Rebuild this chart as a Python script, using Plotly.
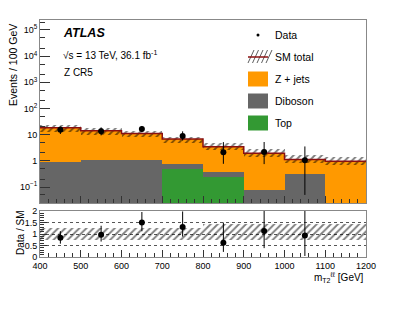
import plotly.graph_objects as go
import numpy as np

# ---------------- data ----------------
bin_edges = [400, 500, 600, 700, 800, 900, 1000, 1100, 1200]
bin_centers = [450, 550, 650, 750, 850, 950, 1050, 1150]
zjets = [17.4, 12.9, 9.9, 6.0, 3.1, 1.87, 0.80, 0.97]
diboson = [0.89, 1.09, 1.09, 0.30, 0.12, 0.078, 0.32, 0.0]
top = [0.0, 0.0, 0.0, 0.47, 0.25, 0.0, 0.0, 0.0]
unc_up = [0.25, 0.25, 0.25, 0.25, 0.43, 0.43, 0.43, 0.43]
unc_down = [0.28, 0.28, 0.28, 0.28, 0.28, 0.28, 0.28, 0.28]
data_x = [450, 550, 650, 750, 850, 950, 1050]
data_y = [15.3, 13.6, 16.5, 8.8, 2.15, 2.2, 1.05]
data_err_up = [5.2, 5.4, 5.0, 4.6, 3.05, 3.05, 2.5]
data_err_down = [4.7, 4.2, 4.2, 2.8, 1.38, 1.45, 1.0]
y_tickvals = [0.1, 1, 10, 100, 1000, 10000, 100000]
y_ticktext = ["10<sup>\u22121</sup>", "1", "10", "10<sup>2</sup>", "10<sup>3</sup>", "10<sup>4</sup>", "10<sup>5</sup>"]
x_ticks = [400, 500, 600, 700, 800, 900, 1000, 1100, 1200]
ratio_ticks = [0, 0.5, 1, 1.5, 2]
ratio_ticktext = ["0", "0.5", "1", "1.5", "2"]

# -------------- derived ---------------
zj = np.array(zjets); db = np.array(diboson); tp = np.array(top)
total = zj + db + tp
cum_top = tp
cum_db = tp + db
up = np.array(unc_up); dn = np.array(unc_down)
n_data = len(data_x)
tot_d = total[:n_data]
ratio = np.array(data_y) / tot_d
ratio_up = np.array(data_err_up) / tot_d
ratio_dn = np.array(data_err_down) / tot_d

ORANGE = "#ff9900"
GREY = "#666666"
GREEN = "#339933"
RED = "#8b1010"
FONT = "Liberation Sans, Arial, sans-serif"

# page has an 8px body margin; figure sized to fit the window
OFF = 8
W, H = 407 - OFF, 315 - OFF
ML, MT = 40 - OFF, 20 - OFF
MR = W - (366 - OFF)
MB = H - (257 - OFF)
PW, PH = W - ML - MR, H - MT - MB


def px(x):  # reference-window pixel -> paper
    return (x - OFF - ML) / PW


def py(y):
    return (H - MB - (y - OFF)) / PH


hatch = dict(shape="/", fgcolor="#000000", bgcolor="rgba(0,0,0,0)", size=5, solidity=0.38, fillmode="overlay")

fig = go.Figure()

for vals, col in [(total, ORANGE), (cum_db, GREY), (cum_top, GREEN)]:
    fig.add_trace(go.Bar(x=bin_centers, y=vals, width=100, marker=dict(color=col, line=dict(width=0)),
                         xaxis="x", yaxis="y", showlegend=False, hoverinfo="skip"))

# SM total uncertainty band (top)
fig.add_trace(go.Bar(x=bin_centers, y=total * (up + dn), base=total * (1 - dn), width=100,
                     marker=dict(color="rgba(0,0,0,0)", line=dict(width=0), pattern=hatch),
                     xaxis="x", yaxis="y", showlegend=False, hoverinfo="skip"))

# SM total step line
step_y = list(total) + [total[-1]]
fig.add_trace(go.Scatter(x=bin_edges, y=step_y, mode="lines", line=dict(color=RED, width=1.5, shape="hv"),
                         xaxis="x", yaxis="y", showlegend=False, hoverinfo="skip"))

# data
fig.add_trace(go.Scatter(x=data_x, y=data_y, mode="markers",
                         marker=dict(color="black", size=6),
                         error_y=dict(type="data", symmetric=False, array=data_err_up,
                                      arrayminus=data_err_down, color="black", thickness=1, width=0),
                         xaxis="x", yaxis="y", showlegend=False, hoverinfo="skip"))

# ratio band
fig.add_trace(go.Bar(x=bin_centers, y=up + dn, base=1 - dn, width=100,
                     marker=dict(color="rgba(0,0,0,0)", line=dict(width=0), pattern=hatch),
                     xaxis="x2", yaxis="y2", showlegend=False, hoverinfo="skip"))

fig.add_trace(go.Scatter(x=data_x, y=ratio, mode="markers",
                         marker=dict(color="black", size=6),
                         error_y=dict(type="data", symmetric=False, array=ratio_up,
                                      arrayminus=ratio_dn, color="black", thickness=1, width=0),
                         xaxis="x2", yaxis="y2", showlegend=False, hoverinfo="skip"))

tickfont = dict(family=FONT, size=9, color="black")
frame = dict(showline=True, linecolor="#888888", linewidth=1, mirror=True, zeroline=False, automargin=False)

fig.update_layout(
    width=W, height=H, margin=dict(l=ML, r=MR, t=MT, b=MB, autoexpand=False),
    paper_bgcolor="white", plot_bgcolor="white", barmode="overlay", bargap=0,
    font=dict(family=FONT, color="black"),
    xaxis=dict(domain=[0, 1], range=[400, 1200], anchor="y", showticklabels=False,
               ticks="inside", ticklen=7, tickcolor="#333", tickvals=x_ticks,
               minor=dict(dtick=20, ticks="inside", ticklen=4, tickcolor="#333"),
               showgrid=False, **frame),
    yaxis=dict(domain=[py(203), 1], type="log", range=[-1.61, 5.38], anchor="x",
               tickvals=y_tickvals, ticktext=y_ticktext, ticks="inside", ticklen=10, tickcolor="#333",
               minor=dict(ticks="inside", ticklen=5, tickcolor="#333", showgrid=False),
               tickfont=tickfont, showgrid=False, **frame),
    xaxis2=dict(domain=[0, 1], range=[400, 1200], anchor="y2", tickvals=x_ticks,
                ticks="inside", ticklen=7, tickcolor="#333", tickfont=tickfont,
                minor=dict(dtick=20, ticks="inside", ticklen=4, tickcolor="#333"),
                showgrid=False, **frame),
    yaxis2=dict(domain=[0, py(211)], range=[0, 2], anchor="x2", tickvals=ratio_ticks,
                ticktext=ratio_ticktext, ticks="inside", ticklen=7, tickcolor="#333",
                minor=dict(dtick=0.1, ticks="inside", ticklen=4, tickcolor="#333"),
                tickfont=tickfont, showgrid=True, gridcolor="#555555", griddash="dot", gridwidth=1,
                **frame),
)

ann = []
ann.append(dict(text="<b><i>ATLAS</i></b>", x=px(61), y=py(33), xref="paper", yref="paper",
                xanchor="left", yanchor="middle", showarrow=False, font=dict(size=12.5, family=FONT)))
ann.append(dict(text="\u221As = 13 TeV, 36.1 fb<sup>-1</sup>", x=px(61), y=py(55), xref="paper", yref="paper",
                xanchor="left", yanchor="middle", showarrow=False, font=dict(size=10, family=FONT)))
ann.append(dict(text="Z CR5", x=px(62), y=py(72), xref="paper", yref="paper",
                xanchor="left", yanchor="middle", showarrow=False, font=dict(size=10, family=FONT)))
ann.append(dict(text="Events / 100 GeV", x=px(13), y=py(108), xref="paper", yref="paper", textangle=-90,
                xanchor="center", yanchor="bottom", showarrow=False, font=dict(size=10.5, family=FONT)))
ann.append(dict(text="Data / SM", x=px(20), y=py(233), xref="paper", yref="paper", textangle=-90,
                xanchor="center", yanchor="middle", showarrow=False, font=dict(size=10, family=FONT)))
ann.append(dict(text="m<sub>T2</sub><sup>\u2113\u2113</sup> [GeV]", x=1, y=py(277), xref="paper", yref="paper",
                xanchor="right", yanchor="middle", showarrow=False, font=dict(size=10, family=FONT)))

legend_items = ["Data", "SM total", "Z + jets", "Diboson", "Top"]
legend_rows = [35, 57, 79, 101, 123]
for name, yy in zip(legend_items, legend_rows):
    ann.append(dict(text=name, x=px(273), y=py(yy), xref="paper", yref="paper",
                    xanchor="left", yanchor="middle", showarrow=False, font=dict(size=10.5, family=FONT)))

shapes = []
# Data marker in legend
shapes.append(dict(type="circle", xref="paper", yref="paper", x0=px(256.5), x1=px(259.5),
                   y0=py(36.5), y1=py(33.5), fillcolor="black", line=dict(width=0)))
# SM total icon
for i in range(5):
    x0 = 248 + i * 4.5
    shapes.append(dict(type="line", xref="paper", yref="paper", x0=px(x0), y0=py(63), x1=px(x0 + 6), y1=py(50),
                       line=dict(color="#333", width=0.8)))
shapes.append(dict(type="line", xref="paper", yref="paper", x0=px(248), x1=px(268), y0=py(57), y1=py(57),
                   line=dict(color=RED, width=1.5)))
for col, yy in [(ORANGE, 79), (GREY, 101), (GREEN, 123)]:
    shapes.append(dict(type="rect", xref="paper", yref="paper", x0=px(248), x1=px(268),
                       y0=py(yy + 7.5), y1=py(yy - 7.5), fillcolor=col, line=dict(width=0)))

fig.update_layout(annotations=ann, shapes=shapes)
fig.write_html("out.html")
